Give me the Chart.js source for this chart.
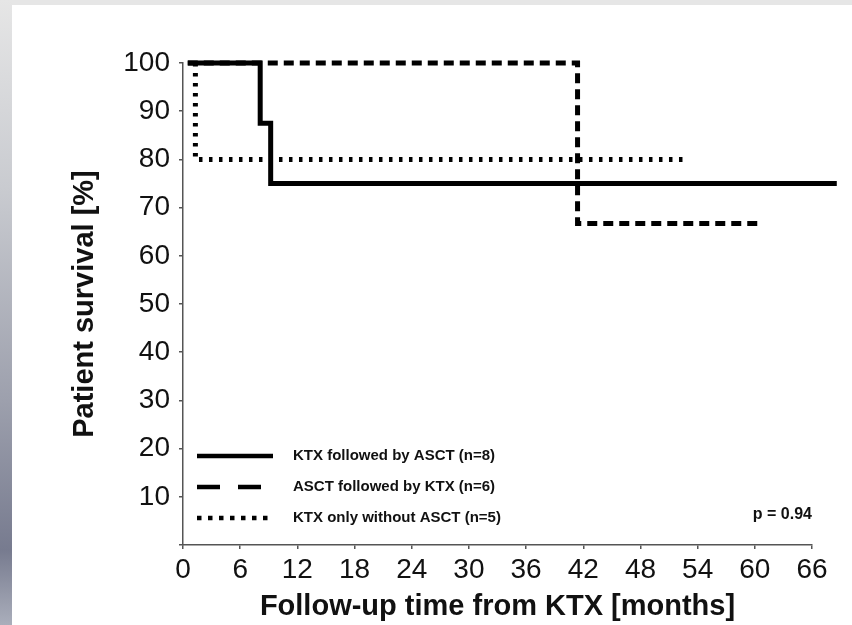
<!DOCTYPE html>
<html><head><meta charset="utf-8">
<script src="https://cdn.jsdelivr.net/npm/chart.js@4.4.0/dist/chart.umd.min.js"></script>
<style>
html,body{margin:0;padding:0;width:852px;height:625px;overflow:hidden;background:#e6e6e6;}
#strip{position:absolute;left:0;top:0;width:12px;height:625px;background:linear-gradient(to bottom,#e6e6e6 0%,#c9cbd0 30%,#9da0ad 64%,#777b8f 88%,#aaaebb 100%);}
#panel{position:absolute;left:12px;top:5px;width:840px;height:620px;background:#fff;}
#wrap{position:absolute;left:0;top:0;width:852px;height:625px;}
</style></head><body>
<div id="strip"></div><div id="panel"></div>
<div id="wrap"><canvas id="c" width="852" height="625"></canvas></div>
<script>
// ---- data ----
const seriesLabels = ["KTX followed by ASCT (n=8)", "ASCT followed by KTX (n=6)", "KTX only without ASCT (n=5)"];
const timesKtxAsct = [0.5, 8.1, 9.2, 68.6];
const survKtxAsct  = [100, 87.5, 75, 75];
const timesAsctKtx = [0.5, 41.4, 60.5];
const survAsctKtx  = [100, 66.7, 66.7];
const timesKtxOnly = [1.3, 1.3, 52.7];
const survKtxOnly  = [100, 80, 80];
const xTickStep = 6, xMax = 66;
const yTickStep = 10, yMax = 100;
const pValueText = "p = 0.94";
const xTitle = "Follow-up time from KTX [months]";
const yTitle = "Patient survival [%]";

const toPts = (t, s) => t.map((x, i) => ({x: x, y: s[i]}));
const dashes = [[], [10, 6], [3.5, 6.5]];
const legendDashes = [[], [23, 18], [4.5, 6.5]];

const legendPlugin = {
  id: 'kmLegend',
  afterDraw(chart) {
    const ctx = chart.ctx, a = chart.chartArea;
    ctx.save();
    const offs = [89, 58, 27];
    seriesLabels.forEach((lab, i) => {
      const y = a.bottom - offs[i];
      ctx.beginPath();
      ctx.setLineDash(legendDashes[i]);
      ctx.lineWidth = 4.5;
      ctx.lineCap = 'butt';
      ctx.strokeStyle = '#000';
      ctx.moveTo(a.left + 14, y);
      ctx.lineTo(a.left + 90, y);
      ctx.stroke();
      ctx.setLineDash([]);
      ctx.fillStyle = '#111';
      ctx.font = 'bold 15px "Liberation Sans", Arial, sans-serif';
      ctx.textBaseline = 'middle';
      ctx.textAlign = 'left';
      ctx.fillText(lab, a.left + 110, y);
    });
    ctx.textAlign = 'right';
    ctx.font = 'bold 16px "Liberation Sans", Arial, sans-serif';
    ctx.fillText(pValueText, a.right, a.bottom - 30);
    ctx.restore();
  }
};

const mk = (i, t, s) => ({
  label: seriesLabels[i],
  data: toPts(t, s),
  stepped: 'before',
  borderColor: '#000',
  borderWidth: 5,
  borderDash: dashes[i],
  borderCapStyle: 'butt',
  borderJoinStyle: 'miter',
  pointRadius: 0,
  fill: false,
  clip: false
});

new Chart(document.getElementById('c'), {
  type: 'line',
  data: { datasets: [ mk(0, timesKtxAsct, survKtxAsct), mk(1, timesAsctKtx, survAsctKtx), mk(2, timesKtxOnly, survKtxOnly) ] },
  plugins: [legendPlugin],
  options: {
    responsive: false,
    animation: false,
    devicePixelRatio: 1,
    layout: { padding: { left: 68, top: 63, right: 40, bottom: 1 } },
    plugins: { legend: { display: false }, tooltip: { enabled: false } },
    scales: {
      x: {
        type: 'linear', min: 0, max: xMax,
        afterFit: s => { s.height = 79; },
        ticks: { stepSize: xTickStep, padding: 4, color: '#111', font: { family: '"Liberation Sans", Arial, sans-serif', size: 28 }, maxRotation: 0 },
        grid: { drawOnChartArea: false, drawTicks: true, tickLength: 4, color: '#555', lineWidth: 1.5 },
        border: { display: true, color: '#555', width: 1.5 },
        title: { display: true, text: xTitle, color: '#111', padding: 0, font: { family: '"Liberation Sans", Arial, sans-serif', size: 29, weight: 'bold' } }
      },
      y: {
        type: 'linear', min: 0, max: yMax,
        afterFit: s => { s.width = 115; },
        ticks: { stepSize: yTickStep, padding: 9, color: '#111', font: { family: '"Liberation Sans", Arial, sans-serif', size: 28 }, callback: v => v === 0 ? '' : v },
        grid: { drawOnChartArea: false, drawTicks: true, tickLength: 4, color: '#555', lineWidth: 1.5 },
        border: { display: true, color: '#555', width: 1.5 },
        title: { display: true, text: yTitle, color: '#111', padding: 0, font: { family: '"Liberation Sans", Arial, sans-serif', size: 29, weight: 'bold' } }
      }
    }
  }
});
</script>
</body></html>
